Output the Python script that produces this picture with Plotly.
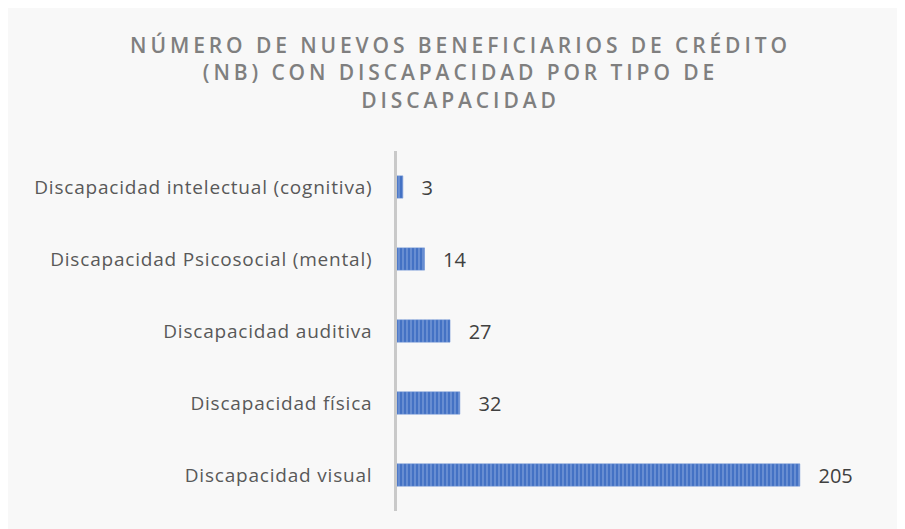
import plotly.graph_objects as go

categorias = ['Discapacidad intelectual (cognitiva)', 'Discapacidad Psicosocial (mental)',
              'Discapacidad auditiva', 'Discapacidad física', 'Discapacidad visual']
valores = [3, 14, 27, 32, 205]
titulo = 'NÚMERO DE NUEVOS BENEFICIARIOS DE CRÉDITO<br>(NB) CON DISCAPACIDAD POR TIPO DE<br>DISCAPACIDAD'

W, H = 905, 529
ml, mr, mt, mb = 389, 64, 143, 26

fig = go.Figure(go.Bar(
    y=categorias, x=valores, orientation='h',
    marker=dict(color='#4472c4',
                line=dict(color='#6f93d6', width=0.5),
                pattern=dict(shape='|', fgcolor='#a9c0ea', bgcolor='#4472c4', size=4, solidity=0.35)),
    text=['\u00a0\u00a0\u00a0' + str(v) for v in valores],
    textposition='outside', cliponaxis=False, constraintext='none',
    textfont=dict(family='Open Sans', size=20, color='#404040'),
))

fig.update_layout(
    width=W, height=H,
    margin=dict(l=ml, r=mr, t=mt, b=mb),
    paper_bgcolor='#f8f8f8', plot_bgcolor='rgba(0,0,0,0)',
    showlegend=False, bargap=0.69,
    title=dict(text='<span style="letter-spacing:3.9px">' + titulo + '</span>',
               x=0.5, xanchor='center', y=0.915, yanchor='top',
               font=dict(family='Open Sans', size=21, color='#7f7f7f', weight=600)),
)
fig.update_xaxes(range=[0, 230], visible=False)
fig.update_yaxes(autorange='reversed', showline=True, linecolor='#c9c9c9', linewidth=2.5,
                 ticks='', ticklabelstandoff=18, showgrid=False,
                 tickvals=categorias,
                 ticktext=['<span style="letter-spacing:0.8px">' + c + '</span>' for c in categorias],
                 tickfont=dict(family='Open Sans', size=19, color='#595959'))

fig.write_html('out.html')
